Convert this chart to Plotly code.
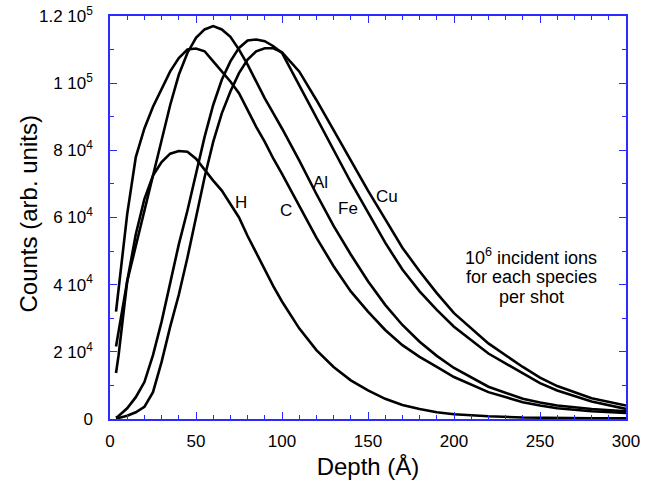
import plotly.graph_objects as go

depth = [3.5, 5, 10, 15, 20, 25, 30, 35, 40, 45, 50, 55, 60, 65, 70, 75, 80, 85, 90, 95, 100,
         110, 120, 130, 140, 150, 160, 170, 180, 190, 200, 220, 240, 250, 260, 280, 300]

h_counts = [13700, 19000, 41000, 55000, 65500, 72500, 76500, 79000, 79800, 79600, 77500, 74200,
            71000, 68000, 64000, 60000, 54500, 49500, 44500, 39500, 35000,
            27000, 20500, 15500, 11500, 8500, 6000, 4200, 3000, 2000, 1400, 800, 450, 350, 280, 220, 200]
c_counts = [32000, 39000, 61000, 78000, 86500, 93000, 98500, 103500, 107500, 110000, 110300, 109500,
            106500, 103500, 100500, 97000, 92000, 87000, 82500, 77500, 73000,
            63500, 54000, 45500, 38000, 32000, 26500, 22000, 18500, 15500, 12500, 8000, 5000, 4000, 3200, 2300, 1800]
al_counts = [21600, 26000, 41000, 51500, 62000, 72500, 83000, 93500, 102500, 109000, 113500, 116000,
             117000, 116000, 113800, 110000, 105500, 100500, 95500, 91000, 86500,
             77000, 67000, 57500, 49000, 41000, 34000, 28000, 23000, 18800, 15200, 9600, 6000, 4900, 4000, 3000, 2300]
fe_counts = [400, 900, 3200, 6500, 11000, 19000, 29000, 41000, 52000, 62000, 73000, 84000,
             93500, 101000, 106500, 110500, 112700, 113000, 112500, 111000, 109000,
             99300, 89700, 80000, 70500, 61500, 52500, 44500, 38000, 32500, 27500, 19500, 13500, 10700, 8500, 5200, 3000]
cu_counts = [100, 300, 1000, 2000, 3600, 8000, 17000, 27500, 37000, 48000, 60000, 72000,
             82500, 91000, 97500, 103000, 107000, 109500, 110400, 110400, 109200,
             103500, 95000, 86000, 77000, 68000, 59500, 51000, 44000, 37500, 31500, 22500, 15500, 12300, 9800, 6200, 4000]

species = ["H", "C", "Al", "Fe", "Cu"]
series = [h_counts, c_counts, al_counts, fe_counts, cu_counts]
label_depth = [76.4, 102.5, 122.3, 138.4, 161.1]
label_counts = [64400, 62200, 70400, 62800, 66200]

note_lines = ["10<sup>6</sup> incident ions", "for each species", "per shot"]
note_depth = 245
note_counts = [48500, 42200, 36400]

x_title = "Depth (Å)"
y_title = "Counts (arb. units)"

y_tickvals = [0, 20000, 40000, 60000, 80000, 100000, 120000]
y_ticktext = ["0", "2 10<sup>4</sup>", "4 10<sup>4</sup>", "6 10<sup>4</sup>", "8 10<sup>4</sup>",
              "1 10<sup>5</sup>", "1.2 10<sup>5</sup>"]
x_tickvals = [0, 50, 100, 150, 200, 250, 300]

FONT = "Liberation Sans, Arial, Helvetica, sans-serif"
AXIS_BLUE = "#2b2bff"

fig = go.Figure()
for name, vals in zip(species, series):
    fig.add_trace(go.Scatter(x=depth, y=vals, mode="lines", name=name,
                             line=dict(color="black", width=2.6), showlegend=False))

for name, xd, yc in zip(species, label_depth, label_counts):
    fig.add_annotation(x=xd, y=yc, text=name, showarrow=False,
                       font=dict(family=FONT, size=17, color="black"))

for line_text, yc in zip(note_lines, note_counts):
    fig.add_annotation(x=note_depth, y=yc, text=line_text, showarrow=False, align="center",
                       font=dict(family=FONT, size=18, color="black"))

# y-axis title placed as a rotated annotation so it sits where the reference has it
fig.add_annotation(xref="paper", yref="paper", x=0, y=0.5, xshift=-82, yshift=3,
                   xanchor="center", yanchor="middle", textangle=-90, showarrow=False,
                   text=y_title, font=dict(family=FONT, size=24, color="black"))

axis_common = dict(showgrid=False, zeroline=False, showline=True, linecolor=AXIS_BLUE,
                   linewidth=1.5, mirror="ticks", ticks="inside", tickcolor=AXIS_BLUE,
                   ticklen=7, tickwidth=1.2, automargin=False, ticklabeloverflow="allow",
                   tickfont=dict(family=FONT, size=17, color="black"))

fig.update_xaxes(range=[0, 300], tickvals=x_tickvals, ticklabelstandoff=6,
                 minor=dict(ticks="inside", dtick=10, ticklen=4, tickcolor=AXIS_BLUE, tickwidth=1),
                 title=dict(text=x_title, font=dict(family=FONT, size=24, color="black"), standoff=8),
                 **axis_common)
fig.update_yaxes(range=[0, 120000], tickvals=y_tickvals, ticktext=y_ticktext, ticklabelstandoff=12,
                 minor=dict(ticks="inside", dtick=10000, ticklen=4, tickcolor=AXIS_BLUE, tickwidth=1),
                 **axis_common)

fig.update_layout(width=654, height=488, margin=dict(l=110, r=28, t=16, b=69),
                  plot_bgcolor="white", paper_bgcolor="white",
                  font=dict(family=FONT))

# remove the page's default body margin so the figure sits at the window's top-left corner
fig.write_html("out.html", config={"displayModeBar": False},
               post_script="document.body.style.margin='0';")
